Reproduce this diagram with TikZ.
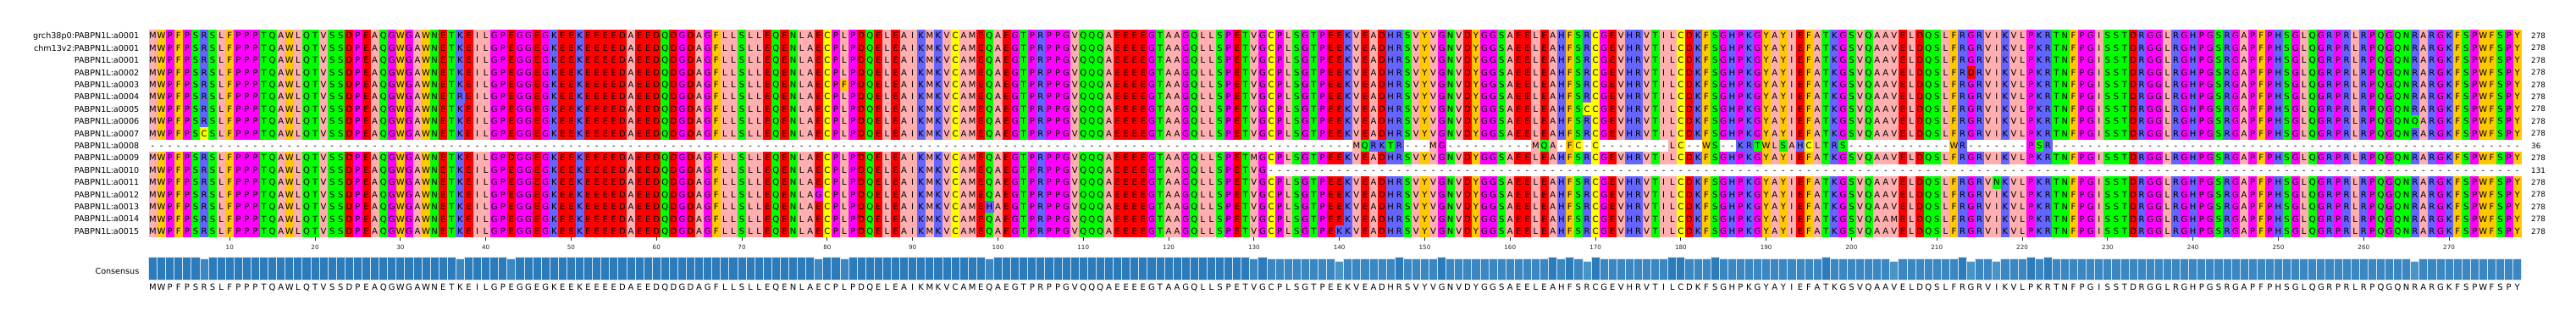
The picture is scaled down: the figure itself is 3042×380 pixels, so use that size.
\documentclass[tikz,border=0pt]{standalone}
\usepackage{fontspec}
\setmainfont{DejaVu Sans}
\definecolor{zhyd}{HTML}{FFAFAF}
\definecolor{zaro}{HTML}{FFC800}
\definecolor{zpos}{HTML}{6464FF}
\definecolor{zneg}{HTML}{FF0000}
\definecolor{zphil}{HTML}{00FF00}
\definecolor{zpg}{HTML}{FF00FF}
\definecolor{zcys}{HTML}{FFFF00}
\definecolor{barA}{HTML}{2C7BBA}
\definecolor{barB}{HTML}{3A87C1}
\definecolor{barC}{HTML}{4A95C8}
\definecolor{baredge}{HTML}{D4E4F2}
\definecolor{tickgray}{HTML}{262626}

\def\zc#1#2{\expandafter\def\csname zc@#1\endcsname{#2}}
\zc A{zhyd}\zc V{zhyd}\zc L{zhyd}\zc I{zhyd}\zc M{zhyd}
\zc F{zaro}\zc W{zaro}\zc Y{zaro}
\zc K{zpos}\zc R{zpos}\zc H{zpos}
\zc D{zneg}\zc E{zneg}
\zc S{zphil}\zc T{zphil}\zc N{zphil}\zc Q{zphil}
\zc P{zpg}\zc G{zpg}
\zc C{zcys}
\zc -{gap}
\def\gapname{gap}

\expandafter\def\csname barcol@16\endcsname{barA}
\expandafter\def\csname barcol@15\endcsname{barB}
\expandafter\def\csname barcol@14\endcsname{barC}
\def\setadj#1#2{\expandafter\def\csname adj@#1\endcsname{#2}}
\setadj{7}{-1}\setadj{37}{-1}\setadj{43}{-1}\setadj{79}{-1}\setadj{82}{-1}
\setadj{99}{-1}\setadj{130}{-1}\setadj{140}{-1}\setadj{169}{-1}\setadj{205}{-1}
\setadj{214}{-1}\setadj{217}{-1}\setadj{266}{-1}
\setadj{147}{1}\setadj{152}{1}\setadj{165}{1}\setadj{167}{1}\setadj{170}{1}
\setadj{179}{1}\setadj{180}{1}\setadj{184}{1}\setadj{197}{1}\setadj{213}{1}
\setadj{221}{1}\setadj{223}{1}

\newcount\alncol \newcount\alnrow \newcount\alnlimit
\newdimen\alnx \newdimen\alny

\newcommand\alncell[3]{%
  \alnx=\dimexpr175.5pt+10.08pt*\numexpr#2-1\relax\relax
  \alny=\dimexpr-35pt-14.41pt*\numexpr#1-1\relax\relax
  \edef\alncc{\csname zc@#3\endcsname}%
  \ifx\alncc\gapname\else
    \begin{pgfscope}%
    \pgfsetfillcolor{\alncc}%
    \pgfpathrectangle{\pgfqpoint{\alnx}{\alny}}{\pgfqpoint{10.4pt}{-14.75pt}}%
    \pgfusepath{fill}%
    \end{pgfscope}%
  \fi
  \pgftext[base,at={\pgfqpoint{\dimexpr\alnx+5.04pt\relax}{\dimexpr\alny-10.85pt\relax}}]{#3}%
}
\newcommand\conslet[3]{%
  \pgftext[base,at={\pgfqpoint{\dimexpr180.54pt+10.08pt*\numexpr#2-1\relax\relax}{-342.6pt}}]{#3}%
}
\let\alnaction\alncell
\def\seqloop#1{%
  \ifx#1\relax\else
    \ifnum\alncol>\alnlimit\else\alnaction{\the\alnrow}{\the\alncol}{#1}\fi
    \advance\alncol by 1
    \expandafter\seqloop
  \fi}
\def\drawseq#1#2#3{\alnrow=#1 \alncol=#2 \alnlimit=999 \seqloop#3\relax}
\def\drawcons#1#2{\alnrow=#1 \alncol=1 \alnlimit=#2 \expandafter\seqloop\cons\relax}
\def\gaps#1#2#3{\foreach \gc in {#2,...,#3}{\alncell{#1}{\gc}{-}}}

\def\cons{MWPFPSRSLF PPPTQAWLQT VSSDPEAQGW GAWNETKEIL GPEGGEGKEE KEEEEDAEED
QDGDAGFLLS LLEQENLAEC PLPDQELEAI KMKVCAMEQA EGTPRPPGVQ QQAEEEEGTA
AGQLLSPETV GCPLSGTPEE KVEADHRSVY VGNVDYGGSA EELEAHFSRC GEVHRVTILC
DKFSGHPKGY AYIEFATKGS VQAAVELDQS LFRGRVIKVL PKRTNFPGIS STDRGGLRGH
PGSRGAPFPH SGLQGRPRLR PQGQNRARGK FSPWFSPY}

\begin{document}
\begin{tikzpicture}[x=1pt,y=1pt,
  lbl/.style={font=\fontsize{9.6}{11}\selectfont, inner sep=0pt},
  num/.style={font=\fontsize{8.8}{10}\selectfont, inner sep=0pt},
  ticklbl/.style={font=\fontsize{7.2}{8}\selectfont, inner sep=0pt, text=tickgray}]
\fill[white] (0,0) rectangle (3042,-380);
\useasboundingbox (0,0) rectangle (3042,-380);
\fontsize{10}{12}\selectfont
% alignment rows
\let\alnaction\alncell
\foreach \r in {1,2,3,4,5,6,7,8,9,11,13,14,15,16,17} {\drawcons{\r}{999}}
\drawcons{12}{131}
\gaps{12}{132}{278}
% row a0008
\gaps{10}{1}{141}
\drawseq{10}{142}{MQRKTR}
\gaps{10}{148}{150}
\drawseq{10}{151}{MG}
\gaps{10}{153}{162}
\drawseq{10}{163}{MQA-FC-C}
\gaps{10}{171}{178}
\drawseq{10}{179}{LC--WS--KRTWLSAHCLTRS}
\gaps{10}{200}{211}
\drawseq{10}{212}{WR}
\gaps{10}{214}{220}
\drawseq{10}{221}{PSR}
\gaps{10}{224}{278}
% substitutions
\alncell{4}{214}{D}
\alncell{5}{82}{F}
\alncell{6}{37}{R}
\alncell{7}{169}{C}
\alncell{8}{266}{Q}
\alncell{9}{7}{C}
\alncell{11}{43}{D}
\alncell{11}{130}{M}
\alncell{13}{217}{N}
\alncell{14}{79}{G}
\alncell{15}{99}{H}
\alncell{16}{205}{M}
\alncell{17}{140}{K}
% row labels and lengths
\foreach \lab/\len [count=\r] in {grch38p0:PABPN1L:a0001/278, chm13v2:PABPN1L:a0001/278,
  PABPN1L:a0001/278, PABPN1L:a0002/278, PABPN1L:a0003/278, PABPN1L:a0004/278,
  PABPN1L:a0005/278, PABPN1L:a0006/278, PABPN1L:a0007/278, PABPN1L:a0008/36,
  PABPN1L:a0009/278, PABPN1L:a0010/131, PABPN1L:a0011/278, PABPN1L:a0012/278,
  PABPN1L:a0013/278, PABPN1L:a0014/278, PABPN1L:a0015/278} {
  \pgfmathsetmacro\yb{-(35+(\r-0.5)*14.41+3.6)}
  \node[lbl,anchor=base east] (lab\r) at (164.5,\yb) {\lab};
  \node[num,anchor=base west] (len\r) at (2989,\yb+0.3) {\len};
}
% ticks
\foreach \t in {10,20,...,270} {
  \pgfmathsetmacro\tx{175.5+(\t-0.5)*10.08}
  \draw[tickgray, line width=0.8pt] (\tx,-280) -- (\tx,-284.3);
  \node[ticklbl, anchor=base] (tick\t) at (\tx,-294.3) {\t};
}
% consensus bars
\foreach \c in {1,...,278} {
  \ifnum\c<132 \def\n{16}\else\def\n{15}\fi
  \ifcsname adj@\c\endcsname \edef\n{\the\numexpr\n+\csname adj@\c\endcsname\relax}\fi
  \edef\bcol{\csname barcol@\n\endcsname}
  \pgfmathsetmacro\bt{-(330.7-27.4+(16-\n)*2.6)}
  \pgfmathsetmacro\bx{175.5+(\c-1)*10.08}
  \filldraw[fill=\bcol, draw=baredge, line width=0.9pt] (\bx,-330.7) rectangle (\bx+10.08,\bt);
}
\node[lbl,anchor=base east] (conslabel) at (164.5,-323) {Consensus};
% consensus letters
\let\alnaction\conslet
\drawcons{0}{999}
\end{tikzpicture}
\end{document}
